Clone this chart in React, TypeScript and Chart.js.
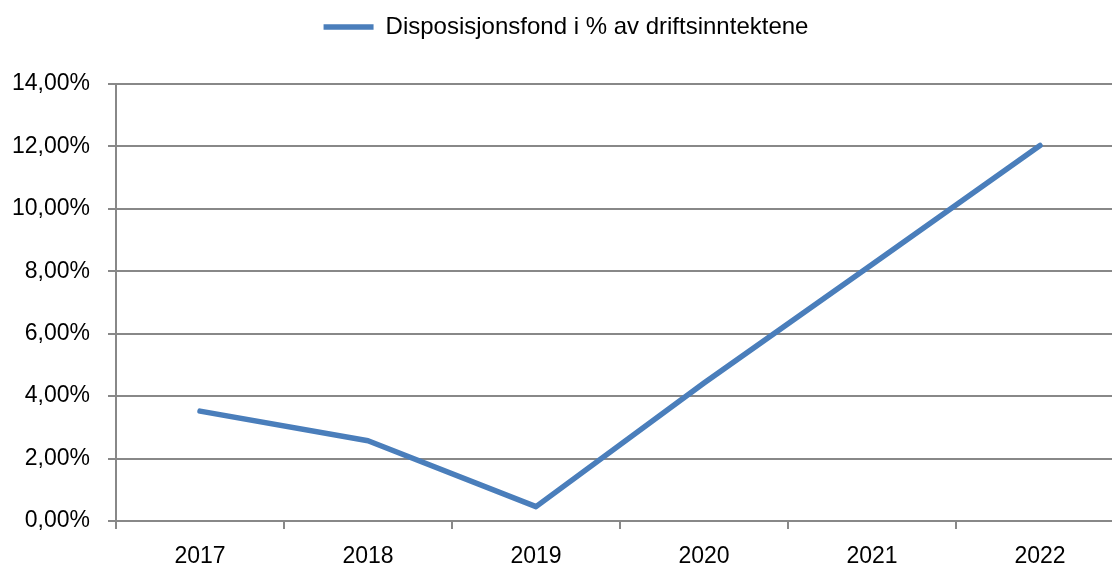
import { useEffect, useRef } from 'react';
import { Chart, registerables } from 'chart.js';

Chart.register(...registerables);

const years = ['2017', '2018', '2019', '2020', '2021', '2022'];
const shareOfRevenue = [3.52, 2.57, 0.46, 4.42, 8.22, 12.03];
const seriesLabel = 'Disposisjonsfond i % av driftsinntektene';
const yMin = 0;
const yMax = 14;
const yStep = 2;

const FONT = "'Liberation Sans', Arial, sans-serif";
const GRID = '#888888';
const LINE = '#4A7EBB';

export default function App() {
  const ref = useRef<HTMLCanvasElement>(null);

  useEffect(() => {
    if (!ref.current) return;
    Chart.defaults.font.family = FONT;
    Chart.defaults.color = '#000';
    const chart = new Chart(ref.current, {
      type: 'line',
      data: {
        labels: years,
        datasets: [
          {
            label: seriesLabel,
            data: shareOfRevenue,
            borderColor: LINE,
            backgroundColor: LINE,
            borderWidth: 5.5,
            borderCapStyle: 'round',
            borderJoinStyle: 'round',
            pointRadius: 0,
            pointHoverRadius: 0,
            tension: 0,
            fill: false,
          },
        ],
      },
      options: {
        responsive: false,
        animation: false,
        devicePixelRatio: 1,
        layout: { padding: { top: 5, left: 8, right: 8, bottom: 0 } },
        plugins: {
          legend: {
            display: true,
            position: 'top',
            labels: {
              usePointStyle: true,
              pointStyle: 'line',
              pointStyleWidth: 50,
              padding: 10,
              color: '#000',
              font: { size: 24, family: FONT },
            },
          },
          title: {
            display: true,
            text: '',
            weight: 500,
            font: { size: 11, lineHeight: 1 },
            padding: { top: 12, bottom: 12 },
          },
          tooltip: { enabled: false },
        },
        scales: {
          x: {
            type: 'category',
            offset: true,
            grid: {
              offset: true,
              drawOnChartArea: false,
              drawTicks: true,
              tickLength: 8,
              color: GRID,
              lineWidth: 2,
            },
            border: { display: true, color: GRID, width: 2 },
            ticks: {
              color: '#000',
              font: { size: 23, family: FONT },
              padding: 14,
              maxRotation: 0,
              autoSkip: false,
            },
            afterFit: (s: any) => {
              s.height = 46;
            },
          },
          y: {
            min: yMin,
            max: yMax,
            grid: {
              color: GRID,
              lineWidth: 2,
              drawTicks: true,
              tickLength: 8,
            },
            border: { display: true, color: GRID, width: 2 },
            ticks: {
              stepSize: yStep,
              color: '#000',
              font: { size: 23, family: FONT },
              padding: 18,
              callback: (v: any) => Number(v).toFixed(2).replace('.', ',') + '%',
            },
            afterFit: (s: any) => {
              s.width = 108;
            },
          },
        },
      } as any,
    });
    return () => chart.destroy();
  }, []);

  return (
    <div
      style={{
        position: 'absolute',
        left: 0,
        top: 0,
        width: 1112,
        height: 567,
        overflow: 'hidden',
        background: '#fff',
      }}
    >
      <canvas ref={ref} width={1132} height={567} style={{ display: 'block' }} />
    </div>
  );
}
